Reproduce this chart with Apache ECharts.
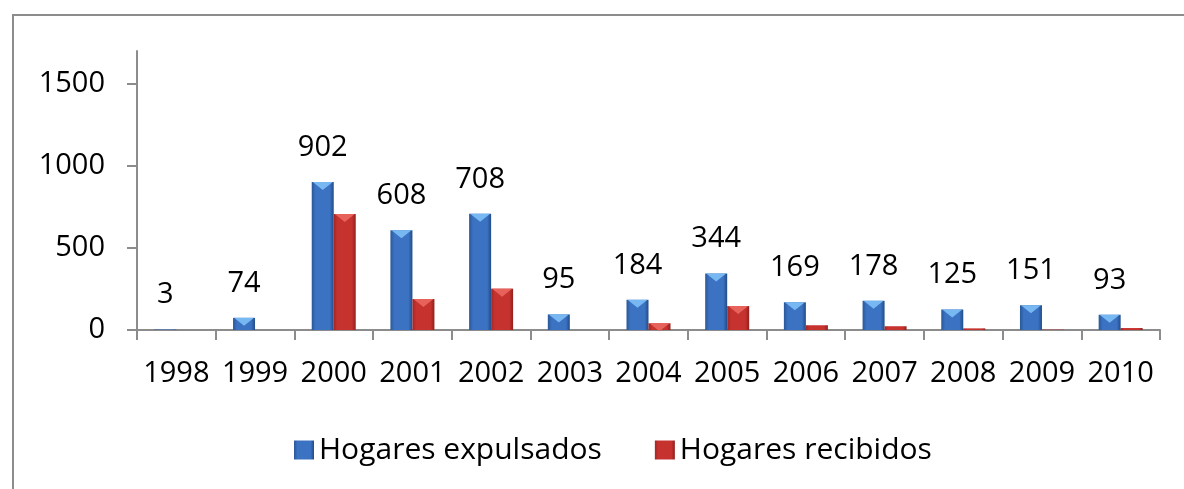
<!DOCTYPE html>
<html>
<head>
<meta charset="utf-8">
<script src="https://cdn.jsdelivr.net/npm/echarts@6/dist/echarts.min.js"></script>
<style>
  html, body { margin: 0; padding: 0; background: #fff; }
  #chart { width: 1184px; height: 489px; }
</style>
</head>
<body>
<div id="chart"></div>
<script>
  var years = ['1998', '1999', '2000', '2001', '2002', '2003', '2004', '2005', '2006', '2007', '2008', '2009', '2010'];
  var expulsados = [3, 74, 902, 608, 708, 95, 184, 344, 169, 178, 125, 151, 93];
  var recibidos = [0, 0, 707, 189, 252, 0, 41, 146, 29, 23, 10, 2, 12];
  var yTicks = [0, 500, 1000, 1500];

  var FONT = '"Open Sans", sans-serif';

  function shade(edge, mid, edge2) {
    return new echarts.graphic.LinearGradient(0, 0, 1, 0, [
      { offset: 0, color: edge },
      { offset: 0.18, color: mid },
      { offset: 0.82, color: mid },
      { offset: 1, color: edge2 }
    ]);
  }

  // bevel highlight only where the bar is tall enough to hold it
  function tops(values) {
    return values.map(function (v) { return v > 40 ? v : '-'; });
  }

  var chart = echarts.init(document.getElementById('chart'));

  chart.setOption({
    animation: false,
    backgroundColor: '#fff',
    textStyle: { fontFamily: FONT },
    graphic: [{
      type: 'polyline',
      shape: { points: [[13, 489], [13, 15], [1184, 15]] },
      style: { stroke: '#8c8c8c', lineWidth: 2, fill: null },
      silent: true
    }],
    grid: { left: 137, right: 24, top: 51, bottom: 159 },
    legend: {
      left: 289,
      top: 430,
      itemWidth: 20,
      itemHeight: 19,
      itemGap: 53,
      icon: 'rect',
      data: ['Hogares expulsados', 'Hogares recibidos'],
      textStyle: { fontSize: 30, color: '#000', fontFamily: FONT }
    },
    xAxis: {
      type: 'category',
      data: years,
      axisLine: { lineStyle: { color: '#8c8c8c', width: 2 } },
      axisTick: { show: true, length: 10, lineStyle: { color: '#8c8c8c', width: 2 } },
      axisLabel: { margin: 29, fontSize: 29, color: '#000', fontFamily: FONT, interval: 0 }
    },
    yAxis: {
      type: 'value',
      min: 0,
      max: 1700,
      interval: 500,
      splitLine: { show: false },
      axisLine: { show: true, lineStyle: { color: '#8c8c8c', width: 2 } },
      axisTick: { show: true, length: 10, customValues: yTicks, lineStyle: { color: '#8c8c8c', width: 2 } },
      axisLabel: {
        margin: 32,
        fontSize: 29,
        color: '#000',
        fontFamily: FONT,
        customValues: yTicks,
        formatter: function (v) { return String(v); }
      }
    },
    series: [
      {
        name: 'Hogares expulsados',
        type: 'bar',
        barWidth: 22,
        barGap: '0%',
        data: expulsados,
        itemStyle: { color: shade('#2a5898', '#3b72c2', '#224c88') },
        label: {
          show: true,
          position: 'top',
          distance: 20,
          fontSize: 29,
          color: '#000',
          fontFamily: FONT
        }
      },
      {
        name: 'Hogares recibidos',
        type: 'bar',
        barWidth: 22,
        barGap: '0%',
        data: recibidos,
        itemStyle: { color: shade('#a52624', '#c6332f', '#921f1d') }
      },
      {
        name: 'Hogares expulsados',
        type: 'pictorialBar',
        barWidth: 22,
        barGap: '0%',
        z: 3,
        symbol: 'path://M0,0 L20,0 L10,8 Z',
        symbolSize: [20, 8],
        symbolPosition: 'end',
        itemStyle: { color: '#78b8f2' },
        silent: true,
        data: tops(expulsados)
      },
      {
        name: 'Hogares recibidos',
        type: 'pictorialBar',
        barWidth: 22,
        barGap: '0%',
        z: 3,
        symbol: 'path://M0,0 L20,0 L10,8 Z',
        symbolSize: [20, 8],
        symbolPosition: 'end',
        itemStyle: { color: '#e8625c' },
        silent: true,
        data: tops(recibidos)
      }
    ]
  });

  window.addEventListener('resize', chart.resize);
</script>
</body>
</html>
